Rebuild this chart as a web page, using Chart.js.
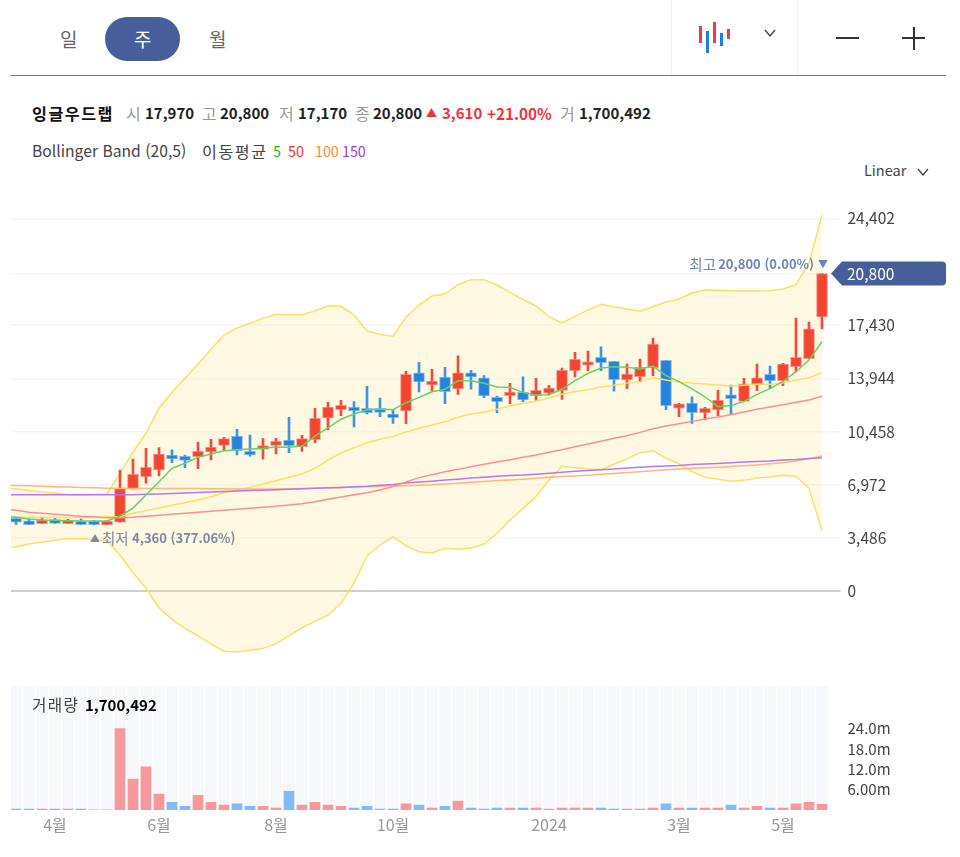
<!DOCTYPE html>
<html lang="ko"><head><meta charset="utf-8">
<script src="https://cdn.jsdelivr.net/npm/chart.js@4"></script>
<style>
html,body{margin:0;padding:0;background:#fff;width:960px;height:857px;overflow:hidden}
body{font-family:"Noto Sans CJK KR","Noto Sans",sans-serif;position:relative}
.t{position:absolute;white-space:nowrap;line-height:20px}
.b{font-weight:700;color:#222}.g{color:#999;font-size:16px!important}.r{color:#f0323c;font-weight:700}
canvas{position:absolute;left:0}
.box{position:absolute}
</style></head><body>
<div class="box" style="left:105px;top:17px;width:75px;height:44px;border-radius:22px;background:#465e9a"></div>
<div class="t" style="left:60px;top:29px;font-size:19px;color:#666">일</div>
<div class="t" style="left:134px;top:29px;font-size:19px;color:#fff">주</div>
<div class="t" style="left:209px;top:29px;font-size:19px;color:#666">월</div>
<div class="box" style="left:671px;top:0;width:1px;height:75px;background:#f1f1f1"></div>
<div class="box" style="left:797px;top:0;width:1px;height:75px;background:#f1f1f1"></div>
<div class="box" style="left:11px;top:75px;width:935px;height:1px;background:#777"></div>
<div class="box" style="left:699px;top:26px;width:3px;height:17px;background:#ee3a42"></div>
<div class="box" style="left:706px;top:31px;width:3px;height:22px;background:#1a7fe8"></div>
<div class="box" style="left:713px;top:22px;width:3px;height:21px;background:#ee3a42"></div>
<div class="box" style="left:720px;top:33px;width:3px;height:13px;background:#1a7fe8"></div>
<div class="box" style="left:727px;top:29px;width:3px;height:10px;background:#ee3a42"></div>
<svg class="box" style="left:760px;top:26px" width="20" height="14"><path d="M5 4l5 6 5-6" fill="none" stroke="#444" stroke-width="1.3"/></svg>
<div class="box" style="left:836px;top:37px;width:23px;height:1.5px;background:#333"></div>
<div class="box" style="left:902px;top:37px;width:23px;height:1.5px;background:#333"></div>
<div class="box" style="left:913px;top:27px;width:1.5px;height:23px;background:#333"></div>
<div class="t b" style="left:32px;top:103px;font-size:16.2px;letter-spacing:1.5px;color:#111">잉글우드랩</div>
<div class="t g" style="left:126px;top:103px;font-size:15px">시</div><div class="t b" style="left:145px;top:103px;font-size:15px">17,970</div>
<div class="t g" style="left:202px;top:103px;font-size:15px">고</div><div class="t b" style="left:220px;top:103px;font-size:15px">20,800</div>
<div class="t g" style="left:279px;top:103px;font-size:15px">저</div><div class="t b" style="left:298px;top:103px;font-size:15px">17,170</div>
<div class="t g" style="left:355px;top:103px;font-size:15px">종</div><div class="t b" style="left:373px;top:103px;font-size:15px">20,800</div>
<div class="t r" style="left:426px;top:102px;font-size:11px">▲</div><div class="t r" style="left:442px;top:103px;font-size:15px">3,610</div>
<div class="t r" style="left:487px;top:103px;font-size:15.3px">+21.00%</div>
<div class="t g" style="left:560px;top:103px;font-size:15px">거</div><div class="t b" style="left:579px;top:103px;font-size:15px">1,700,492</div>
<div class="t" style="left:32px;top:141px;font-size:15.7px;color:#444">Bollinger Band (20,5)</div>
<div class="t" style="left:202px;top:141px;font-size:16.2px;letter-spacing:1.5px;color:#444">이동평균</div>
<div class="t" style="left:273px;top:141px;font-size:14.3px;color:#1cba1c">5</div>
<div class="t" style="left:288px;top:141px;font-size:14.3px;color:#f33">50</div>
<div class="t" style="left:315px;top:141px;font-size:14.3px;color:#ff8a2a">100</div>
<div class="t" style="left:342px;top:141px;font-size:14.3px;color:#9a3cf5">150</div>
<div class="t" style="left:864px;top:160px;font-size:14.5px;color:#444">Linear</div>
<svg class="box" style="left:914px;top:165px" width="18" height="14"><path d="M4 4l5 6 5-6" fill="none" stroke="#444" stroke-width="1.3"/></svg>

<canvas id="price" width="960" height="480" style="top:190px;width:960px;height:480px"></canvas>
<canvas id="volume" width="960" height="170" style="top:680px;width:960px;height:170px"></canvas>
<div class="t" style="left:32px;top:695px;font-size:15.7px;letter-spacing:1.3px;color:#444">거래량</div>
<div class="t" style="left:85px;top:695px;font-weight:700;color:#000;font-size:15px">1,700,492</div>

<script>
const open_=[4790,4630,4440,4700,4440,4610,4610,4350,4530,6690,
7510,7950,8930,8840,8820,9130,9560,10170,9170,9300,
9560,9910,9470,9940,11350,11890,12070,11990,11990,11610,
11810,14310,13510,14030,13250,14310,13970,12700,12810,13030,
12810,12970,13160,14440,14800,15320,15060,13860,14050,14620,
15130,11990,12330,11700,11890,12870,12440,13560,14210,13790,
14710,15230,17970];
const close_=[4530,4370,4680,4460,4680,4370,4370,4590,6750,7670,
8130,8990,8670,8580,9170,9450,10000,9210,8930,9540,
9830,9540,10000,11330,12070,12180,11810,11700,11720,11370,
14210,13710,13770,13070,14310,14030,12790,12420,13050,12530,
13160,13310,14470,15190,15030,14970,13860,14230,14670,16190,
12150,12270,11700,11990,12530,12610,13590,13970,13790,14880,
15320,17190,20800];
const high_=[4870,4740,4830,4780,4720,4740,4650,4620,7950,8670,
9370,9410,9260,8930,9780,9960,10090,10610,10240,10000,
10020,11400,10220,11990,12380,12510,12420,13420,12660,11870,
14410,14990,14540,14670,15410,14470,14120,12790,13620,14050,
13950,13490,14620,15650,15730,16010,15060,14880,15210,16580,
15130,12310,12740,12050,13180,13510,13950,14880,14750,14930,
17890,17630,20800];
const low_=[4380,4370,4440,4460,4440,4370,4360,4370,4530,6690,
7080,7560,8430,8100,8030,8600,9210,8930,8860,8650,
9000,9080,9170,9730,10570,11500,10760,11610,11440,11000,
10980,13050,13120,12290,12900,13230,12680,11700,12290,12420,
12510,12860,12570,14030,14430,14440,13100,13270,13730,14120,
11890,11440,11000,11220,11500,11590,12440,13140,13270,13460,
14360,15230,17170];
const volumeM=[0.3,0.3,0.3,0.3,0.3,0.3,0.05,0.05,24,9.1,
12.7,4.7,2.25,1.1,4.3,2.25,1.45,1.85,1.1,1.1,
0.6,5.5,1.45,2.25,1.45,1.1,0.6,1.1,0.3,0.3,
1.85,1.45,0.6,1.1,2.65,0.6,0.3,0.6,0.6,0.6,
0.6,0.3,0.6,0.6,0.6,0.6,0.3,0.3,0.3,0.6,
1.85,0.6,0.6,0.6,0.6,1.45,0.6,1.1,0.6,0.6,
1.85,2.25,1.7];
// index -1 is the week just left of the visible window (clipped by the chart area)
const ma5=[4900,4850,4740,4680,4660,4630,4610,4610,4610,4940,5460,
6310,7180,8060,8390,8780,9000,9210,9280,9320,9370,
9450,9430,9520,10170,10700,11270,11610,11870,11940,11890,
12350,12700,13070,13230,13790,13790,13620,13380,13360,13010,
12860,12870,13230,13790,14270,14620,14710,14670,14560,14750,
14120,13730,13250,12740,12090,12160,12440,12900,13270,13750,
14380,15140,16340];
const bbUpper=[6800,6710,6610,6510,6440,6350,6330,6350,6380,7730,9110,
10350,11990,13030,13950,14880,15840,16780,17240,17550,17870,
18130,18110,18110,18350,18680,18660,18090,17040,16830,16700,
17940,18740,19330,19460,20070,20400,20400,20050,19570,19090,
18680,17980,17570,18000,18420,18790,18630,18480,18330,18630,
18940,19140,19530,19720,19700,19680,19660,19660,19680,19790,
20070,21470,24630];
const bbLower=[2800,2930,3110,3220,3350,3450,3450,3410,3300,2390,1230,
210,-1080,-1820,-2410,-2910,-3430,-3910,-3960,-3850,-3720,
-3430,-2910,-2370,-1950,-1540,-770,540,2320,3040,3590,
2980,2600,2520,2830,2760,2850,3110,3810,4680,5440,
6200,7290,8190,8100,8010,7970,8320,8670,9080,9210,
8730,8340,7840,7470,7340,7210,7270,7430,7490,7600,
7540,6750,3980];
const bbMiddle=[4890,4870,4850,4850,4840,4840,4840,4870,4890,4890,5120,
5290,5460,5640,5810,5990,6200,6460,6640,6820,7030,
7250,7470,7690,8060,8600,9060,9410,9730,9960,10130,
10430,10680,10890,11110,11400,11610,11740,11920,12140,12310,
12440,12660,12900,13070,13200,13380,13490,13620,13730,13990,
13840,13690,13640,13570,13510,13440,13490,13550,13550,13660,
13820,13990,14310];
const ma50=[5390,5310,5180,5120,5050,4990,4920,4870,4830,4830,4850,
4920,4990,5050,5120,5180,5250,5310,5380,5440,5510,
5570,5660,5740,5870,6030,6180,6330,6460,6640,6860,
7160,7450,7640,7840,7990,8160,8320,8470,8620,8780,
8930,9110,9280,9470,9650,9830,10020,10190,10410,10650,
10830,10980,11130,11290,11420,11570,11740,11920,12070,12220,
12380,12530,12770];
const ma100=[6950,6930,6910,6890,6860,6840,6810,6780,6760,6740,6740,
6740,6730,6730,6730,6730,6720,6720,6710,6710,6700,
6700,6720,6740,6760,6770,6800,6830,6850,6880,6900,
6920,6950,6980,7030,7080,7140,7200,7260,7300,7350,
7410,7470,7520,7560,7610,7670,7720,7780,7840,7900,
7960,8020,8060,8090,8130,8170,8220,8280,8350,8430,
8530,8680,8860];
const ma150=[6330,6330,6330,6330,6330,6330,6330,6330,6330,6330,6330,
6360,6380,6410,6440,6480,6510,6540,6570,6600,6630,
6660,6690,6720,6750,6780,6810,6850,6890,6950,7000,
7090,7160,7220,7290,7350,7420,7480,7540,7590,7620,
7670,7730,7800,7860,7920,7960,8010,8080,8130,8180,
8210,8250,8310,8340,8380,8420,8470,8500,8540,8600,
8640,8700,8750];
const gridTicks=[0,3486,6972,10458,13944,17430,20800,24402];
const volumeTicks=[6,12,18,24];
const monthTicks=[[3,'4월'],[11,'6월'],[20,'8월'],[29,'10월'],[41,'2024'],[51,'3월'],[59,'5월']];

const FONT='"Noto Sans CJK KR","Noto Sans",sans-serif';
const up=close_.map((c,i)=>c>=open_[i]);
const series=a=>a.map((y,i)=>({x:i-1,y}));
const xBounds={min:-0.385,max:62.5};
const line=(label,data,color,order,extra)=>Object.assign({type:'line',label,data:series(data),borderColor:color,borderWidth:1.5,pointRadius:0,tension:0,fill:false,order},extra||{});

const annotate={id:'annotate',afterDatasetsDraw(c){
  const g=c.ctx,y=c.scales.y,x=c.scales.x;
  const top=y.getPixelForValue(20800),px=x.getPixelForValue(62);
  g.save();
  g.fillStyle='#465e9a';
  g.beginPath();g.moveTo(831,top);g.lineTo(842,top-12);g.lineTo(942,top-12);g.arcTo(946,top-12,946,top-8,4);g.lineTo(946,top+8);g.arcTo(946,top+12,942,top+12,4);g.lineTo(842,top+12);g.closePath();g.fill();
  g.fillStyle='#fff';g.font='15.5px '+FONT;g.textAlign='left';g.textBaseline='middle';
  g.fillText('20,800',847,top+0.5);
  const hy=top-9;
  g.fillStyle='#6f84b8';g.font='10px '+FONT;g.textAlign='center';g.fillText('▼',px+1,hy);
  g.textAlign='right';g.font='bold 13px '+FONT;g.fillText('20,800 (0.00%)',px-8,hy);
  g.font='14.5px '+FONT;g.fillText('최고',px-106,hy);
  const lx=x.getPixelForValue(6),ly=y.getPixelForValue(4360)+13.5;
  g.fillStyle='#7b8aa3';g.font='10px '+FONT;g.textAlign='center';g.fillText('▲',lx+1,ly);
  g.textAlign='left';g.font='14.5px '+FONT;g.fillText('최저',lx+8,ly);
  g.font='bold 13px '+FONT;g.fillText('4,360 (377.06%)',lx+38,ly);
  g.restore();
}};

new Chart(document.getElementById('price'),{
  data:{datasets:[
    line('MA5',ma5,'#63d463',1),
    line('MA50',ma50,'#ff8f8f',2),
    line('MA100',ma100,'#ffb77a',3),
    line('MA150',ma150,'#b678ee',2.5),
    {type:'bar',label:'body',grouped:false,order:5,barThickness:11,borderWidth:1,borderSkipped:false,
     data:open_.map((o,i)=>({x:i,y:[o,close_[i]]})),
     backgroundColor:up.map(u=>u?'#f44532':'#2484dc'),borderColor:up.map(u=>u?'rgba(244,120,105,.75)':'rgba(100,170,235,.75)')},
    {type:'bar',label:'wick',grouped:false,order:6,barThickness:2,
     data:low_.map((l,i)=>({x:i,y:[l,high_[i]]})),
     backgroundColor:up.map(u=>u?'#f44a3c':'#3f95e0')},
    line('BB middle',bbMiddle,'#ffdd66',4),
    line('BB upper',bbUpper,'#ffdd66',7,{fill:{target:'+1'},backgroundColor:'rgba(255,226,120,.2)'}),
    line('BB lower',bbLower,'#ffdd66',7.5)
  ]},
  options:{responsive:false,animation:false,devicePixelRatio:1,
    layout:{autoPadding:false,padding:{left:11,top:0,bottom:0,right:0}},
    plugins:{legend:{display:false},tooltip:{enabled:false}},
    scales:{
      x:Object.assign({type:'linear',display:false,offset:false},xBounds),
      y:{position:'right',min:-5136,max:26266,
        afterFit(s){s.width=960-828.5;s.paddingTop=0;s.paddingBottom=0},
        afterBuildTicks(s){s.ticks=gridTicks.map(value=>({value}))},
        border:{display:false},
        grid:{tickLength:12,color:t=>t.tick&&t.tick.value===0?'#cfcfcf':'#f5f6fa',lineWidth:t=>t.tick&&t.tick.value===0?2:1.5},
        ticks:{padding:7,color:'#444',font:{size:15.5,family:FONT},autoSkip:false,maxRotation:0,
          callback:v=>v===20800?'':v.toLocaleString('en-US')}
      }
    }
  },plugins:[annotate]
});

new Chart(document.getElementById('volume'),{
  data:{datasets:[
    {type:'bar',label:'volume',grouped:false,order:1,barThickness:10,
     data:volumeM.map((v,i)=>({x:i,y:v})),
     backgroundColor:up.map(u=>u?'#f5999e':'#81bbf9')},
    {type:'bar',label:'backdrop',grouped:false,order:2,barThickness:11,
     data:volumeM.map((v,i)=>({x:i,y:36.5})),backgroundColor:'#f6f8fc'}
  ]},
  options:{responsive:false,animation:false,devicePixelRatio:1,
    layout:{autoPadding:false,padding:{left:11,top:6,bottom:0,right:0}},
    plugins:{legend:{display:false},tooltip:{enabled:false}},
    scales:{
      x:Object.assign({type:'linear',offset:false,
        afterFit(s){s.height=40;s.paddingLeft=0;s.paddingRight=0},
        afterBuildTicks(s){s.ticks=monthTicks.map(m=>({value:m[0]}))},
        border:{display:false},grid:{display:false,drawTicks:false},
        ticks:{padding:5,color:'#999',font:{size:16,family:FONT},autoSkip:false,maxRotation:0,
          callback:v=>{const m=monthTicks.find(k=>k[0]===v);return m?m[1]:''}}
      },xBounds),
      y:{position:'right',min:0,max:36.5,
        afterFit(s){s.width=960-828.5;s.paddingTop=0;s.paddingBottom=0},
        afterBuildTicks(s){s.ticks=volumeTicks.map(value=>({value}))},
        border:{display:false},grid:{display:false,tickLength:12,drawOnChartArea:false,color:'transparent'},
        ticks:{padding:7,color:'#444',font:{size:15,family:FONT},autoSkip:false,
          callback:v=>v<10?v.toFixed(2)+'m':v.toFixed(1)+'m'}
      }
    }
  }
});
</script>
</body></html>
